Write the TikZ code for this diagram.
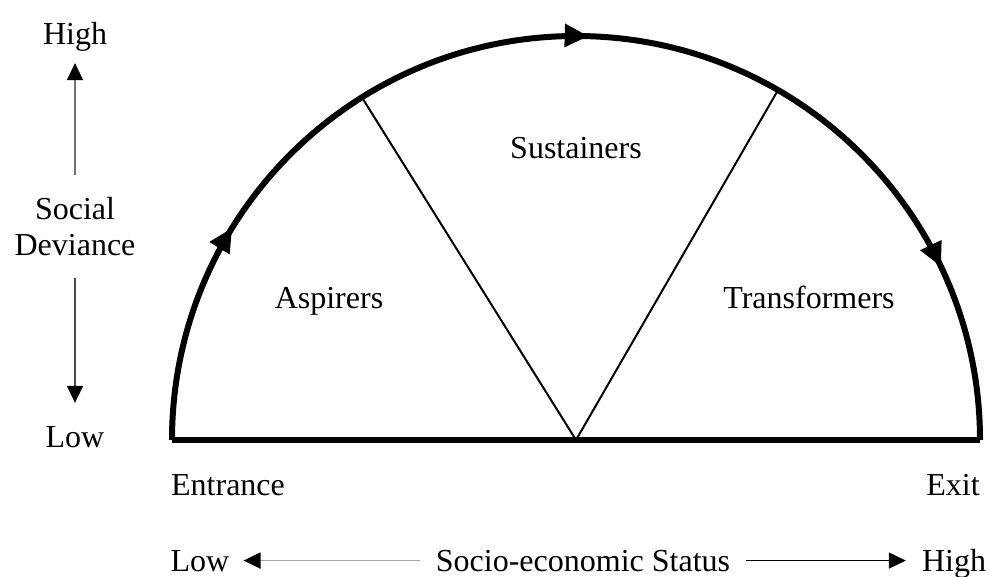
\documentclass[tikz,border=0pt]{standalone}
\usepackage{fontspec}
\setmainfont{Liberation Serif}
\usetikzlibrary{arrows.meta,decorations.markings}
\begin{document}
\begin{tikzpicture}[x=1pt,y=1pt,
  lbl/.style={font=\fontsize{32}{36}\selectfont, inner sep=0pt},
  rim/.style={line width=6pt, line cap=butt, line join=round},
  spoke/.style={line width=2pt},
  axisarrow/.style={line width=1.8pt, -{Triangle[length=17pt,width=16pt,color=black]}},
  flow/.style={postaction=decorate, decoration={markings,
     mark=at position 0.176 with {\arrow{Triangle[length=24pt,width=22pt]}},
     mark=at position 0.51 with {\arrow{Triangle[length=24pt,width=22pt]}},
     mark=at position 0.859 with {\arrow{Triangle[length=24pt,width=22pt]}}}}
]
\useasboundingbox (0,0) rectangle (990,576);

% semicircle: centre, ends and spoke tips
\coordinate (C) at (576,136);
\coordinate (E) at (172,136);
\coordinate (X) at (980,136);
\path (C) ++(122:404) coordinate (S1);
\path (C) ++(60:404) coordinate (S2);

\draw[rim, flow] (E) arc[start angle=180, end angle=0, radius=404];
\draw[rim] (E) -- (X);
\draw[spoke] (C) -- (S1);
\draw[spoke] (C) -- (S2);

% segment labels
\node[lbl, anchor=base] (asp) at (329,267) {Aspirers};
\node[lbl, anchor=base] (sus) at (576,417) {Sustainers};
\node[lbl, anchor=base] (tra) at (809,267) {Transformers};

\node[lbl, anchor=base] (ent) at (228,81) {Entrance};
\node[lbl, anchor=base] (ext) at (953,81) {Exit};

% vertical axis
\node[lbl, anchor=base] (vhigh) at (75,531) {High};
\node[lbl, align=center] (dev) at (75,349.5) {Social\\Deviance};
\node[lbl, anchor=base] (vlow) at (75,129) {Low};
\draw[axisarrow, draw=black!55, shorten <=22pt, shorten >=11pt]
  (dev.north) -- (dev.north |- vhigh.south);
\draw[axisarrow, draw=black!70, shorten <=22pt, shorten >=23pt]
  (dev.south) -- (dev.south |- vlow.north);

% horizontal axis
\node[lbl, anchor=base] (hlow) at (200,5) {Low};
\node[lbl, anchor=base] (ses) at (583,5) {Socio-economic Status};
\node[lbl, anchor=base] (hhigh) at (954,5) {High};
\draw[axisarrow, draw=black!35, shorten <=16pt, shorten >=14pt]
  (ses.west) -- (ses.west -| hlow.east);
\draw[axisarrow, shorten <=16pt, shorten >=16pt]
  (ses.east) -- (ses.east -| hhigh.west);
\end{tikzpicture}
\end{document}
